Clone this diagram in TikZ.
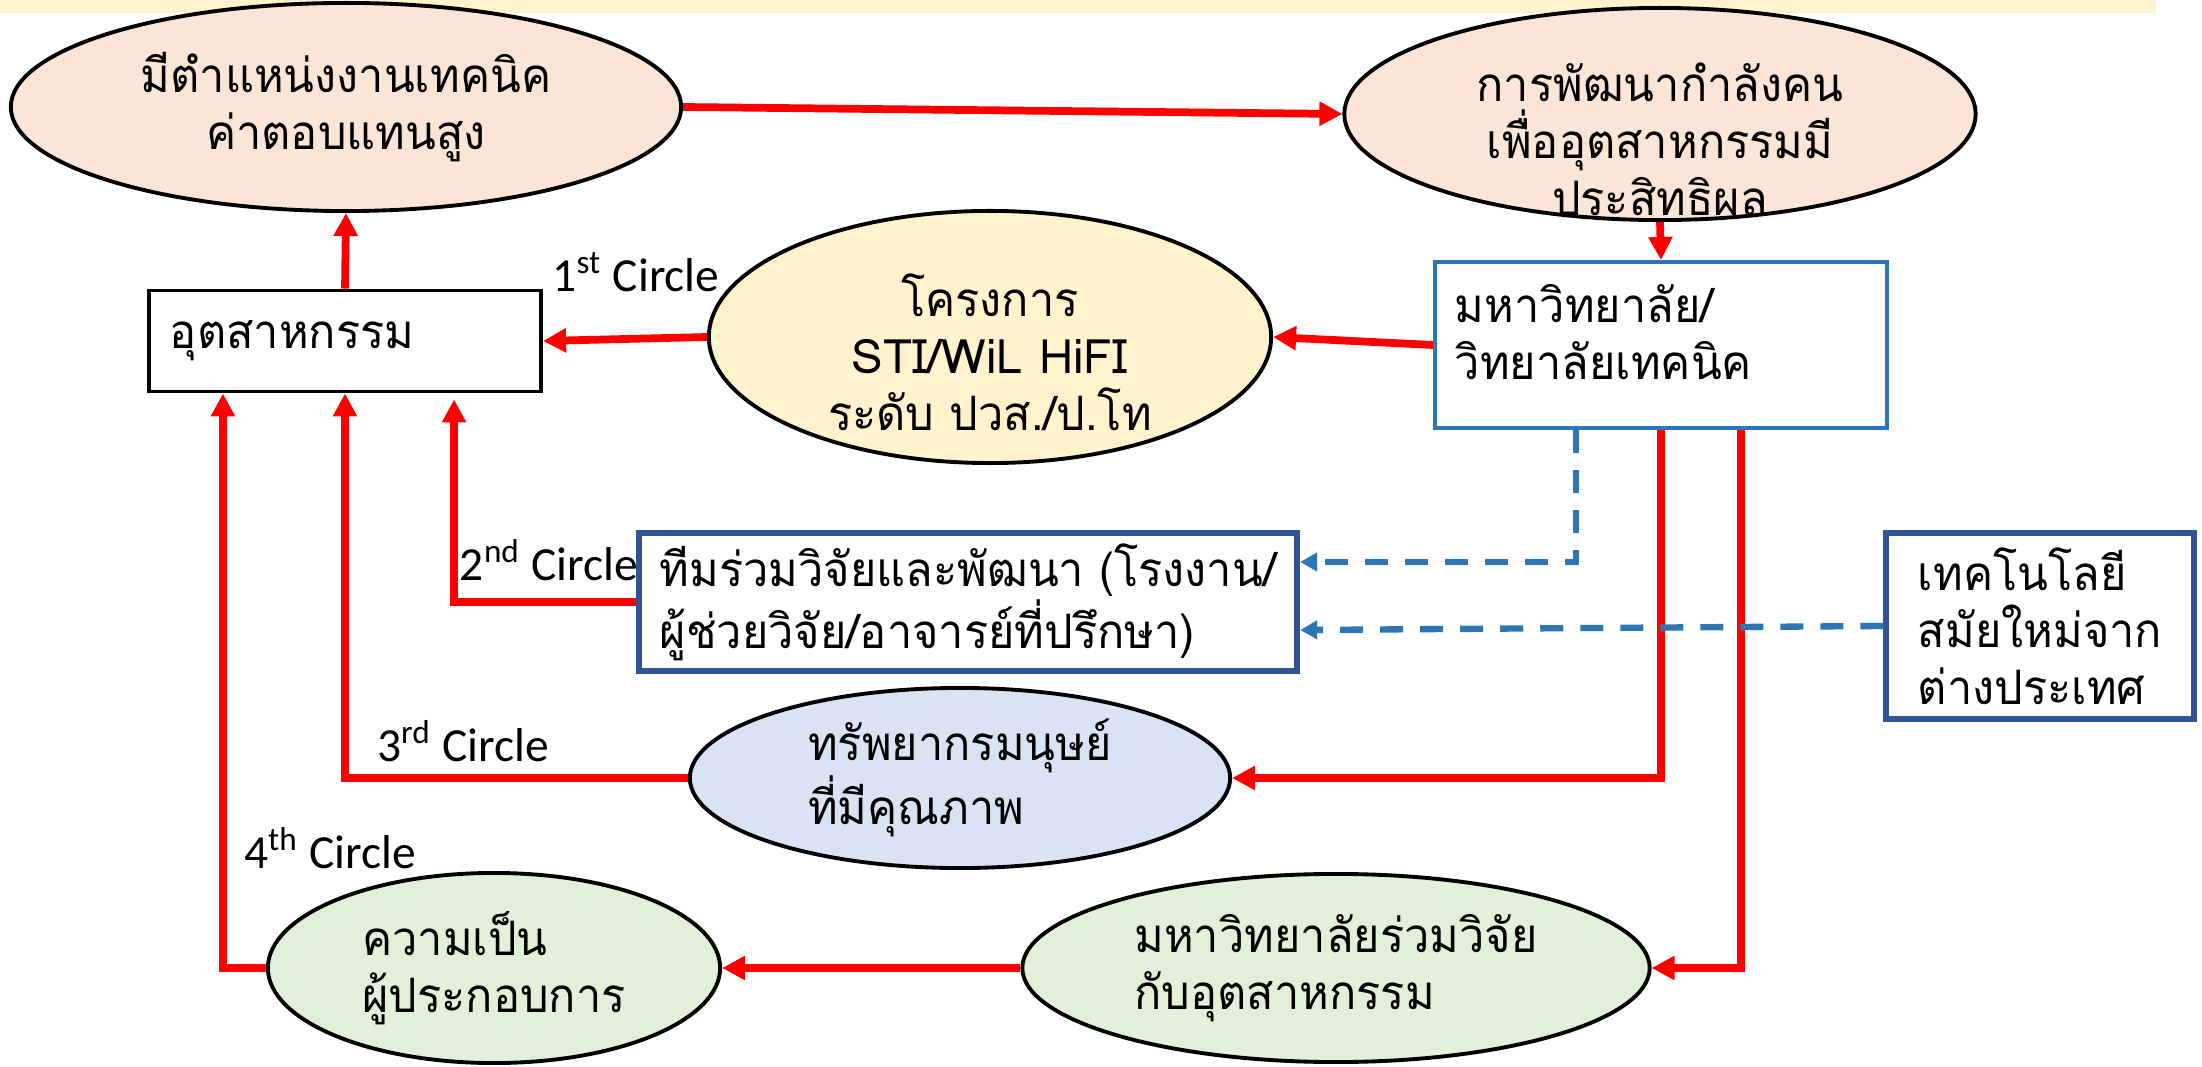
\documentclass[tikz,border=0pt]{standalone}
\usepackage{fontspec}
\setmainfont{Loma}[Script=Thai,FakeStretch=0.95]
\newfontfamily\latinfont{Loma}
\newfontfamily\circlefont{Carlito}
\usetikzlibrary{arrows.meta,shapes.geometric}

\definecolor{peach}{HTML}{FBE5D6}
\definecolor{cream}{HTML}{FFF2CC}
\definecolor{paleblue}{HTML}{DAE3F3}
\definecolor{palegreen}{HTML}{E2F0D9}
\definecolor{midblue}{HTML}{2E75B6}
\definecolor{darkblue}{HTML}{2F5597}

\begin{document}
\begin{tikzpicture}[x=0.01cm,y=-0.01cm,font=\fontsize{13.5}{16.2}\selectfont,
    main node/.style={ellipse,draw,line width=1.1pt,inner sep=0pt,align=center},
    box node/.style={rectangle,draw,line width=1.1pt,inner sep=0pt},
    flow/.style={draw=red,line width=2.2pt,-{Triangle[length=0.23cm,width=0.23cm]}},
    link/.style={draw=midblue,line width=1.8pt,dash pattern=on 0.23cm off 0.17cm,-{Triangle[length=0.17cm,width=0.18cm]}},
    circle label/.style={font=\circlefont\fontsize{13.5}{16}\selectfont}]

    \fill[white] (0,0) rectangle (2202,1067);
    \useasboundingbox (0,0) rectangle (2202,1067);
    \fill[cream] (0,0) rectangle (2156,13);

    % top row
    \node[main node,fill=peach,minimum width=6.7cm,minimum height=2.08cm] (pay) at (346,107) {มีตำแหน่งงานเทคนิค\\ค่าตอบแทนสูง};
    \node[main node,fill=peach,minimum width=6.31cm,minimum height=2.12cm] (workforce) at (1660,114) {};
    \node[align=center,inner sep=0pt] (workforcetext) at (1660,139) {การพัฒนากำลังคน\\เพื่ออุตสาหกรรมมี\\ประสิทธิผล};

    % second row
    \node[box node,minimum width=3.92cm,minimum height=1.01cm,text width=3.5cm,align=left] (industry) at (345,341) {อุตสาหกรรม};
    \node[main node,fill=cream,minimum width=5.62cm,minimum height=2.52cm] (sti) at (990,337) {};
    \node[align=center,inner sep=0pt] (stitext) at (990,352) {โครงการ\\{\latinfont STI/WiL HiFI}\\ระดับ ปวส./ป.โท};
    \node[box node,draw=midblue,minimum width=4.52cm,minimum height=1.66cm] (univ) at (1661,345) {};
    \node[text width=4.12cm,align=left,inner sep=0pt] (univtext) at (1661,332) {มหาวิทยาลัย/\\วิทยาลัยเทคนิค};

    % lower rows
    \node[box node,draw=darkblue,line width=1.7pt,minimum width=6.58cm,minimum height=1.37cm,align=left] (team) at (968,602) {ทีมร่วมวิจัยและพัฒนา (โรงงาน/\\ผู้ช่วยวิจัย/อาจารย์ที่ปรึกษา)};
    \node[box node,draw=darkblue,line width=1.7pt,minimum width=3.07cm,minimum height=1.86cm,align=left] (tech) at (2040,626) {เทคโนโลยี\\สมัยใหม่จาก\\ต่างประเทศ};
    \node[main node,fill=paleblue,minimum width=5.4cm,minimum height=1.8cm,align=left] (people) at (960,778) {ทรัพยากรมนุษย์\\ที่มีคุณภาพ};
    \node[main node,fill=palegreen,minimum width=4.52cm,minimum height=1.9cm,align=left] (entre) at (494,968) {ความเป็น\\ผู้ประกอบการ};
    \node[main node,fill=palegreen,minimum width=6.27cm,minimum height=1.88cm,align=left] (collab) at (1336,968) {มหาวิทยาลัยร่วมวิจัย\\กับอุตสาหกรรม};

    \node[circle label] (first) at (636,272) {1\textsuperscript{st} Circle};
    \node[circle label] (second) at (549,560) {2\textsuperscript{nd} Circle};
    \node[circle label] (third) at (463,741) {3\textsuperscript{rd} Circle};
    \node[circle label] (fourth) at (330,848) {4\textsuperscript{th} Circle};

    \draw[flow] (pay.east) -- (workforce.west);
    \draw[flow] (workforce.south) -- (univ.north);
    \draw[flow] (univ.west) -- (sti.east);
    \draw[flow] (sti.west) -- (industry.east);
    \draw[flow] (industry.north) -- (pay.south);
    \draw[flow] (team.west) -| ([xshift=1.09cm,yshift=-0.06cm]industry.south);
    \draw[flow] (people.west) -| (industry.south);
    \draw[flow] (entre.west) -| ([xshift=-1.22cm]industry.south);
    \draw[flow] (univ.south) |- (people.east);
    \draw[flow] ([xshift=0.8cm]univ.south) |- (collab.east);
    \draw[flow] (collab.west) -- (entre.east);

    \draw[link] ([xshift=-0.85cm]univ.south) |- ([yshift=0.4cm]team.east);
    \draw[link] (tech.west) -- ([yshift=-0.28cm]team.east);
\end{tikzpicture}
\end{document}
